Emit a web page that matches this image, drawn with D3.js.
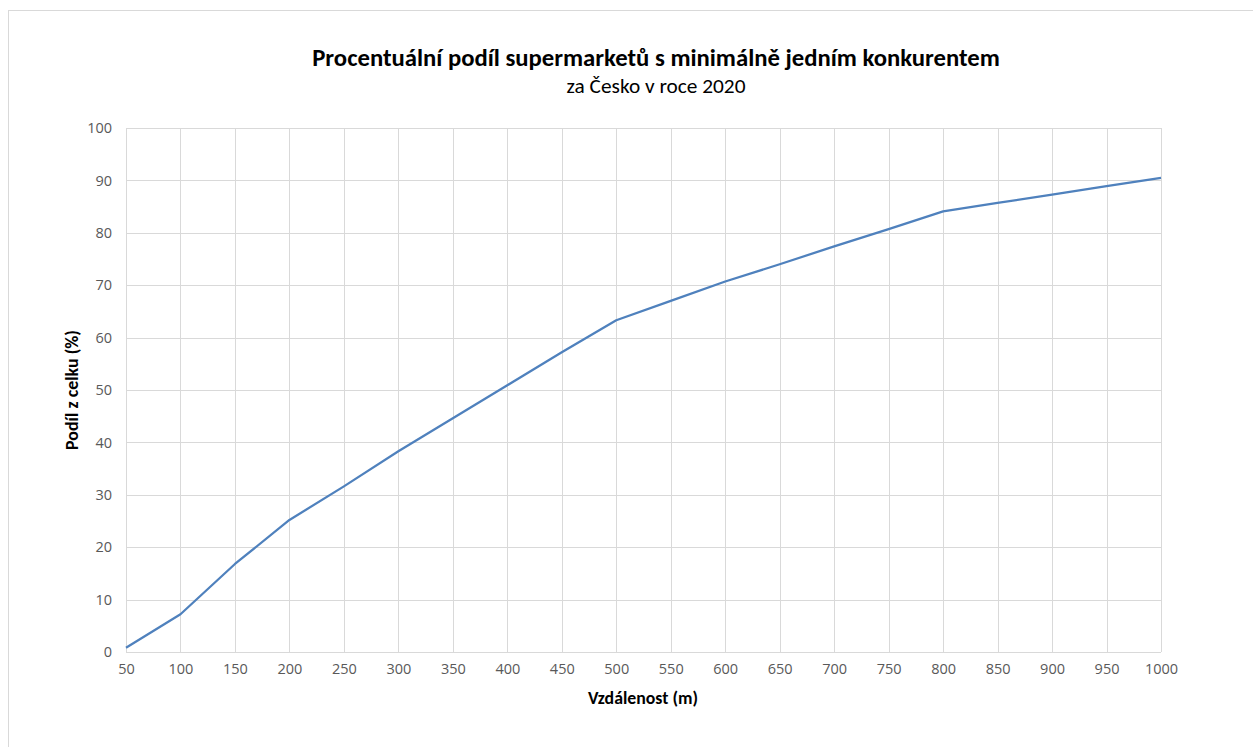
<!DOCTYPE html>
<html><head><meta charset="utf-8">
<script src="https://cdn.jsdelivr.net/npm/d3@7"></script>
<style>body{margin:0;background:#fff}svg{display:block}</style>
</head><body>
<script>
const distances = [50,100,150,200,250,300,350,400,450,500,550,600,650,700,750,800,850,900,950,1000];
const shares = [0.8,7.2,16.8,25.2,31.6,38.3,44.6,50.9,57.2,63.3,67.0,70.7,74.0,77.4,80.7,84.1,85.7,87.3,88.9,90.5];
const yTicks = [0,10,20,30,40,50,60,70,80,90,100];
const titleText = "Procentuální podíl supermarketů s minimálně jedním konkurentem";
const subtitleText = "za Česko v roce 2020";
const xTitle = "Vzdálenost (m)";
const yTitle = "Podíl z celku (%)";

const W = 1253, H = 747;
const svg = d3.select("body").append("svg").attr("width", W).attr("height", H);
svg.append("rect").attr("x", 8.5).attr("y", 10.5).attr("width", 1300).attr("height", 800)
  .attr("fill", "#fff").attr("stroke", "#d9d9d9");

const L = 126, R = 1161, T = 128, B = 652;
const x = d3.scaleLinear().domain([50, 1000]).range([L, R]);
const y = d3.scaleLinear().domain([0, 100]).range([B, T]);
const font = "Calibri, Carlito, Lato, 'Open Sans', sans-serif";
const tickFont = "'Segoe UI', 'Open Sans', sans-serif";

// grid
svg.append("g").selectAll("line.h").data(yTicks).join("line")
  .attr("x1", L).attr("x2", R).attr("y1", d => Math.round(y(d)) + 0.5).attr("y2", d => Math.round(y(d)) + 0.5)
  .attr("stroke", "#d9d9d9").attr("stroke-width", 1);
svg.append("g").selectAll("line.v").data(distances).join("line")
  .attr("y1", T).attr("y2", B).attr("x1", d => Math.round(x(d)) + 0.5).attr("x2", d => Math.round(x(d)) + 0.5)
  .attr("stroke", "#d9d9d9").attr("stroke-width", 1);

// axes (labels only)
const yAxis = d3.axisLeft(y).tickValues(yTicks).tickSize(0).tickPadding(14).tickFormat(d3.format("d"));
const gy = svg.append("g").attr("transform", `translate(${L},0)`).call(yAxis);
gy.select(".domain").remove();
gy.selectAll("text").attr("font-family", tickFont).attr("font-size", 14.5).attr("fill", "#595959");

const xAxis = d3.axisBottom(x).tickValues(distances).tickSize(0).tickPadding(12).tickFormat(d3.format("d"));
const gx = svg.append("g").attr("transform", `translate(0,${B})`).call(xAxis);
gx.select(".domain").remove();
gx.selectAll("text").attr("font-family", tickFont).attr("font-size", 14.5).attr("fill", "#595959");

// bottom axis line
svg.append("line").attr("x1", L).attr("x2", R).attr("y1", B + 0.5).attr("y2", B + 0.5).attr("stroke", "#d9d9d9");

// line
const line = d3.line().x((d, i) => x(distances[i])).y(d => y(d));
svg.append("path").datum(shares).attr("d", line).attr("fill", "none")
  .attr("stroke", "#4f81bd").attr("stroke-width", 2.25).attr("stroke-linejoin", "round");

// titles
function fitText(sel, width) {
  const w = sel.node().getComputedTextLength();
  const fs = parseFloat(sel.attr("font-size"));
  sel.attr("font-size", fs * width / w);
}
const t1 = svg.append("text").attr("x", 656).attr("y", 66).attr("text-anchor", "middle")
  .attr("font-family", font).attr("font-weight", "bold").attr("font-size", 20).attr("fill", "#000").text(titleText);
fitText(t1, 688);
const t2 = svg.append("text").attr("x", 656).attr("y", 93).attr("text-anchor", "middle")
  .attr("font-family", font).attr("font-size", 16).attr("fill", "#000").text(subtitleText);
fitText(t2, 179);
const t3 = svg.append("text").attr("x", 643).attr("y", 704).attr("text-anchor", "middle")
  .attr("font-family", font).attr("font-weight", "bold").attr("font-size", 14).attr("fill", "#000").text(xTitle);
fitText(t3, 110);
const t4 = svg.append("text").attr("transform", "translate(78,390) rotate(-90)").attr("text-anchor", "middle")
  .attr("font-family", font).attr("font-weight", "bold").attr("font-size", 14).attr("fill", "#000").text(yTitle);
fitText(t4, 120);
</script>
</body></html>
